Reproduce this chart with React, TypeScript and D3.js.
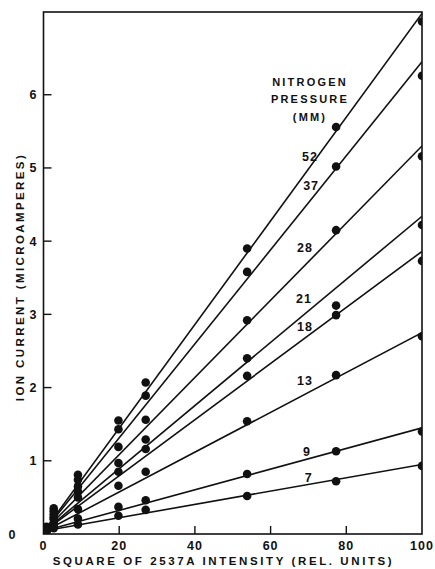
import React from "react";
import * as d3 from "d3";

// ---- data ----
const pressures = ["52", "37", "28", "21", "18", "13", "9", "7"];
const intensities = [0.8, 2.7, 9.1, 19.8, 27, 53.8, 77.3, 100];
const current52 = [0.10, 0.35, 0.81, 1.55, 2.07, 3.90, 5.56, 7.00];
const current37 = [0.09, 0.31, 0.74, 1.43, 1.89, 3.58, 5.02, 6.26];
const current28 = [0.08, 0.27, 0.65, 1.19, 1.56, 2.92, 4.15, 5.16];
const current21 = [0.07, 0.23, 0.58, 0.97, 1.29, 2.40, 3.12, 4.22];
const current18 = [0.06, 0.20, 0.50, 0.85, 1.16, 2.16, 2.99, 3.73];
const current13 = [0.05, 0.15, 0.34, 0.66, 0.85, 1.54, 2.17, 2.70];
const current9 = [0.04, 0.11, 0.21, 0.37, 0.46, 0.82, 1.13, 1.40];
const current7 = [0.03, 0.08, 0.13, 0.25, 0.33, 0.52, 0.72, 0.93];
const seriesValues = [current52, current37, current28, current21, current18, current13, current9, current7];
// fitted straight lines: value at x=0 and at x=100
const fitStart = [0.03, 0.03, 0.03, 0.03, 0.03, 0.03, 0.04, 0.04];
const fitEnd = [7.11, 6.45, 5.30, 4.34, 3.86, 2.75, 1.45, 0.95];
// label anchor in data coordinates
const labelX = [70.4, 70.7, 69.1, 68.8, 69.1, 69.1, 69.6, 70.1];
const labelY = [5.16, 4.76, 3.92, 3.21, 2.84, 2.10, 1.13, 0.77];
const xTicks = [0, 20, 40, 60, 80, 100];
const yTicks = [0, 1, 2, 3, 4, 5, 6];
const legendTitle = ["NITROGEN", "PRESSURE", "(MM)"];

const FONT = "'Liberation Sans', Arial, sans-serif";

export default function App() {
  const left = 43.5, right = 422, top = 12, bottom = 534;
  const x = d3.scaleLinear().domain([0, 100]).range([left, right]);
  const y = d3.scaleLinear().domain([0, 7.13]).range([bottom, top]);
  const line = d3.line<[number, number]>().x(d => x(d[0])).y(d => y(d[1]));

  return (
    <svg width={435} height={569} style={{ position: "absolute", left: 0, top: 0, background: "#fff" }}
      fontFamily={FONT}>
      <defs>
        <clipPath id="plot">
          <rect x={left} y={top} width={right - left} height={bottom - top} />
        </clipPath>
      </defs>
      <rect x={0} y={0} width={435} height={569} fill="#fff" />
      {/* frame */}
      <rect x={left} y={top} width={right - left} height={bottom - top} fill="none" stroke="#111" strokeWidth={1.6} />
      {/* y ticks */}
      {yTicks.map(t => (
        <g key={"y" + t}>
          {t > 0 && <line x1={left} x2={left + 8} y1={y(t)} y2={y(t)} stroke="#111" strokeWidth={1.4} />}
          <text x={t === 0 ? 12 : 33} y={y(t)} dy="0.36em" textAnchor="middle" fontSize={12.5} fontWeight="bold" fill="#111">{t}</text>
        </g>
      ))}
      {/* x ticks */}
      {xTicks.map(t => (
        <g key={"x" + t}>
          {t > 0 && t < 100 && <line x1={x(t)} x2={x(t)} y1={bottom} y2={bottom - 8} stroke="#111" strokeWidth={1.4} />}
          <text x={x(t)} y={545} dy="0.36em" textAnchor="middle" fontSize={12.5} fontWeight="bold" fill="#111" letterSpacing={1}>{t}</text>
        </g>
      ))}
      {/* axis titles */}
      <text x={223.5} y={561} dy="0.36em" textAnchor="middle" fontSize={11.5} fontWeight="bold" letterSpacing={2.6} fill="#111">
        SQUARE OF 2537A INTENSITY (REL. UNITS)
      </text>
      <text transform="translate(20,277) rotate(-90)" dy="0.36em" textAnchor="middle" fontSize={11.5} fontWeight="bold" letterSpacing={2.4} fill="#111">
        ION CURRENT (MICROAMPERES)
      </text>
      {/* legend title */}
      {legendTitle.map((s, i) => (
        <text key={s} x={310} y={[82, 99, 117][i]} dy="0.36em" textAnchor="middle" fontSize={11} fontWeight="bold" letterSpacing={2.2} fill="#111">{s}</text>
      ))}
      {/* fitted lines */}
      {pressures.map((p, i) => (
        <path key={"l" + p} d={line([[0, fitStart[i]], [100, fitEnd[i]]]) || ""} fill="none" stroke="#111" strokeWidth={1.6} clipPath="url(#plot)" />
      ))}
      {/* points */}
      <g clipPath="url(#plot)">
        {pressures.map((p, i) => seriesValues[i].map((v, j) => (
          <circle key={p + "-" + j} cx={x(intensities[j])} cy={y(v)} r={4.3} fill="#111" />
        )))}
      </g>
      {/* series labels */}
      {pressures.map((p, i) => (
        <text key={"t" + p} x={x(labelX[i])} y={y(labelY[i])} dy="0.36em" textAnchor="middle" fontSize={12.5} fontWeight="bold" letterSpacing={1} fill="#111">{p}</text>
      ))}
    </svg>
  );
}
